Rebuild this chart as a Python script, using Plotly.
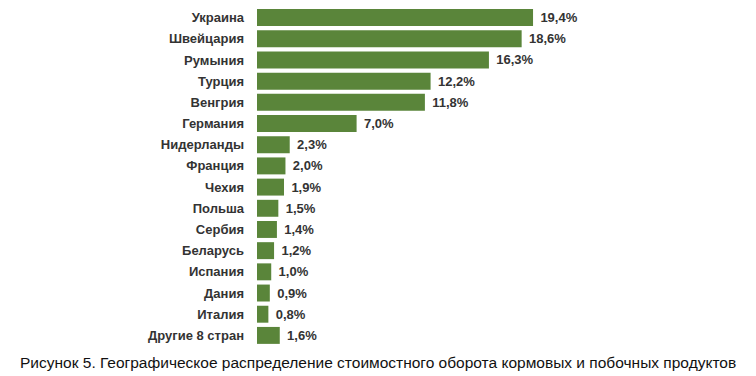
import plotly.graph_objects as go

countries = ["Украина", "Швейцария", "Румыния", "Турция", "Венгрия", "Германия",
             "Нидерланды", "Франция", "Чехия", "Польша", "Сербия", "Беларусь",
             "Испания", "Дания", "Италия", "Другие 8 стран"]
shares = [19.4, 18.6, 16.3, 12.2, 11.8, 7.0, 2.3, 2.0, 1.9, 1.5, 1.4, 1.2, 1.0, 0.9, 0.8, 1.6]
value_labels = [f"{v:.1f}%".replace(".", ",") for v in shares]
caption = "Рисунок 5. Географическое распределение стоимостного оборота кормовых и побочных продуктов"

fig = go.Figure(go.Bar(
    x=shares, y=countries, orientation="h",
    marker=dict(color="#5a853a", line=dict(width=0)),
    width=0.8,
    text=value_labels, textposition="outside", cliponaxis=False,
    texttemplate="\u2004<b>%{text}</b>",
    textfont=dict(family="Liberation Sans, Arial, sans-serif", size=13, color="#333333"),
    hoverinfo="skip",
))

fig.update_layout(
    width=756, height=376,
    margin=dict(l=257, r=0, t=7, b=30),
    paper_bgcolor="white", plot_bgcolor="white",
    showlegend=False,
    font=dict(family="Liberation Sans, Arial, sans-serif"),
    xaxis=dict(range=[0, 35.07], visible=False),
    yaxis=dict(range=[15.5, -0.5], showgrid=False, zeroline=False, showline=False,
               ticks="", ticklabelstandoff=12,
               tickvals=countries, ticktext=[f"<b>{c}</b>" for c in countries],
               tickfont=dict(family="Liberation Sans, Arial, sans-serif", size=13, color="#333333")),
    annotations=[dict(text=caption, xref="paper", yref="paper", x=(378 - 257) / 499, y=0,
                      xanchor="center", yanchor="middle", yshift=-16, showarrow=False,
                      font=dict(family="Liberation Sans, Arial, sans-serif", size=15.5, color="#111111"))],
)

fig.write_html("out.html", config={"displayModeBar": False},
               post_script="document.body.style.margin='0';")
